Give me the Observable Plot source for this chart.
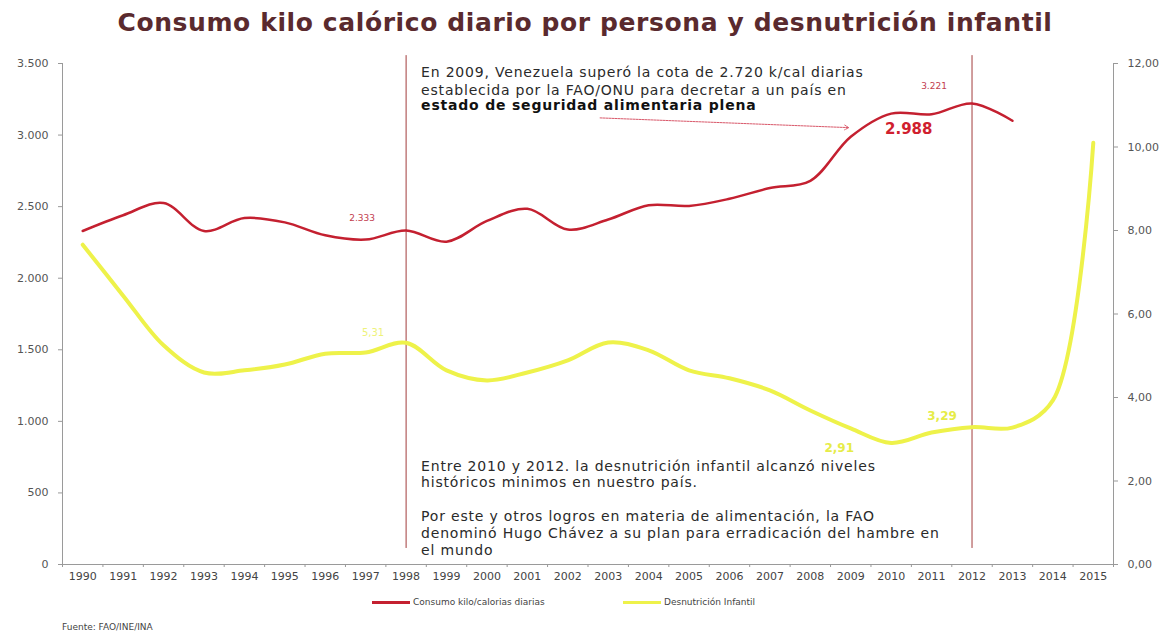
<!DOCTYPE html>
<html><head><meta charset="utf-8">
<script src="https://cdn.jsdelivr.net/npm/d3@7"></script>
<script src="https://cdn.jsdelivr.net/npm/@observablehq/plot@0.6"></script>
<style>
body{margin:0;background:#fff;font-family:"DejaVu Sans",sans-serif;}
#wrap{position:relative;width:1170px;height:633px;overflow:hidden;background:#fff}
#title{position:absolute;top:8px;left:0;width:1170px;text-align:center;font-weight:bold;font-size:25px;letter-spacing:0.6px;color:#5a2a2e;white-space:nowrap}
#chart{position:absolute;top:40px;left:0}
.leg{position:absolute;top:597px;font-size:9px;color:#444;display:flex;align-items:center;white-space:nowrap}
.leg span.sw{display:inline-block;width:38px;height:3px;margin-right:3px}
#src{position:absolute;top:622px;left:62px;font-size:9px;color:#444}
</style></head>
<body>
<div id="wrap">
<div id="title">Consumo kilo calórico diario por persona y desnutrición infantil</div>
<div id="chart"></div>
<div class="leg" style="left:372px"><span class="sw" style="background:#c42030"></span>Consumo kilo/calorias diarias</div>
<div class="leg" style="left:623px"><span class="sw" style="background:#eef24a"></span>Desnutrición Infantil</div>
<div id="src">Fuente: FAO/INE/INA</div>
</div>
<script>
const years = [1990,1991,1992,1993,1994,1995,1996,1997,1998,1999,2000,2001,2002,2003,2004,2005,2006,2007,2008,2009,2010,2011,2012,2013,2014,2015];
const kcal = [2330,2440,2525,2330,2420,2390,2300,2270,2333,2255,2400,2485,2340,2410,2510,2505,2555,2630,2680,2988,3150,3145,3221,3100,null,null];
const desnutricion = [7.66,6.44,5.25,4.60,4.65,4.79,5.05,5.08,5.31,4.65,4.41,4.60,4.89,5.32,5.13,4.65,4.46,4.17,3.69,3.26,2.91,3.16,3.29,3.28,3.93,10.10];
const leftTicks = [0,500,1000,1500,2000,2500,3000,3500];
const rightTicks = [0,2,4,6,8,10,12];
const ruleYears = [1998, 2012];

const kcalLabelA = [{year:1998, v:2333, t:"2.333"}];
const kcalLabelB = [{year:2012, v:3221, t:"3.221"}];
const kcalBig = [{year:2009, v:2988, t:"2.988"}];
const desLabelA = [{year:1998, v:5.31, t:"5,31"}];
const desLabelB = [{year:2010, v:2.91, t:"2,91"}];
const desLabelC = [{year:2012, v:3.29, t:"3,29"}];

const topNote = "En 2009, Venezuela superó la cota de 2.720 k/cal diarias\nestablecida por la FAO/ONU para decretar a un país en";
const topNoteBold = "estado de seguridad alimentaria plena";
const bottomNote = "Entre 2010 y 2012. la desnutrición infantil alcanzó niveles\nhistóricos minimos en nuestro país.\n\nPor este y otros logros en materia de alimentación, la FAO\ndenominó Hugo Chávez a su plan para erradicación del hambre en\nel mundo";
const arrowFrom = {year:2002.8, v:3120};
const arrowTo = {year:2008.95, v:3052};

const yMax = 3500, y2Max = 12, ratio = yMax / y2Max;
const xDomain = [1989.5, 2015.5];
const data = years.map((y,i)=>({year:y, kcal:kcal[i], des:desnutricion[i]}));
const fmtDot = d => d3.format(",")(d).replace(/,/g, ".");

const plot = Plot.plot({
  width: 1170, height: 550,
  marginTop: 23, marginBottom: 26, marginLeft: 62, marginRight: 57,
  style: {fontFamily: "DejaVu Sans, sans-serif", background: "#fff"},
  x: {domain: xDomain},
  y: {domain: [0, yMax]},
  marks: [
    Plot.ruleX(xDomain, {stroke: "#9a9a9a"}),
    Plot.ruleY([0], {stroke: "#9a9a9a"}),
    Plot.axisY({ticks: leftTicks, tickFormat: fmtDot, tickSize: 4, tickPadding: 10, fontSize: 11, color: "#555", stroke: "#999", label: null}),
    Plot.axisY({ticks: rightTicks.map(v => v * ratio), anchor: "right", tickFormat: d => (d / ratio).toFixed(2).replace(".", ","), tickSize: 4, tickPadding: 10, fontSize: 11, color: "#555", stroke: "#999", label: null}),
    Plot.axisX({ticks: years, tickSize: 0, tickPadding: 8, tickFormat: d => String(d), fontSize: 11, color: "#444", label: null}),
    Plot.axisX({ticks: years.map(y => y - 0.5).concat([xDomain[1]]), tickSize: 3, tickFormat: () => "", stroke: "#999", label: null}),
    Plot.ruleX(ruleYears, {y1: 3555, y2: 112, stroke: "#a23c3c", strokeWidth: 1}),
    Plot.line(data, {x: "year", y: d => d.des * ratio, curve: "catmull-rom", stroke: "#eef24a", strokeWidth: 4}),
    Plot.line(data.filter(d => d.kcal != null), {x: "year", y: "kcal", curve: "catmull-rom", stroke: "#c42030", strokeWidth: 2.5}),
    Plot.text(kcalLabelA, {x: "year", y: "v", text: "t", dx: -44, dy: -12, fontSize: 9, fill: "#c2404e"}),
    Plot.text(kcalLabelB, {x: "year", y: "v", text: "t", dx: -38, dy: -17, fontSize: 9, fill: "#c2404e"}),
    Plot.text(kcalBig, {x: "year", y: "v", text: "t", dx: 58, dy: -8, fontSize: 15, fontWeight: "bold", fill: "#d0202e"}),
    Plot.text(desLabelA, {x: "year", y: d => d.v * ratio, text: "t", dx: -33, dy: -10, fontSize: 10, fill: "#eef27a"}),
    Plot.text(desLabelB, {x: "year", y: d => d.v * ratio, text: "t", dx: -52, dy: 5, fontSize: 12, fontWeight: "bold", fill: "#e6ec48"}),
    Plot.text(desLabelC, {x: "year", y: d => d.v * ratio, text: "t", dx: -30, dy: -11, fontSize: 12, fontWeight: "bold", fill: "#e6ec48"}),
    Plot.arrow([0], {x1: () => arrowFrom.year, y1: () => arrowFrom.v, x2: () => arrowTo.year, y2: () => arrowTo.v, stroke: "#d9586a", strokeWidth: 1, strokeDasharray: "2,1", headLength: 7, bend: 0}),
    Plot.text([topNote], {x: () => ruleYears[0], frameAnchor: "top", text: d => d, textAnchor: "start", lineAnchor: "top", dx: 15, dy: 0, fontSize: 14, lineHeight: 1.32, fill: "#2a2a2a"}),
    Plot.text([topNoteBold], {x: () => ruleYears[0], frameAnchor: "top", text: d => d, textAnchor: "start", lineAnchor: "top", dx: 15, dy: 37, fontSize: 14, fontWeight: "bold", fill: "#111"}),
    Plot.text([bottomNote], {x: () => ruleYears[0], frameAnchor: "bottom", text: d => d, textAnchor: "start", lineAnchor: "bottom", dx: 15, dy: -10, fontSize: 14, lineHeight: 1.2, fill: "#2a2a2a"})
  ]
});
plot.querySelectorAll("text").forEach(t => {
  const s = t.textContent;
  if (s.includes("Venezuela") || s.includes("seguridad") || s.includes("Chávez")) t.style.letterSpacing = "0.8px";
});
document.getElementById("chart").append(plot);
</script>
</body></html>
